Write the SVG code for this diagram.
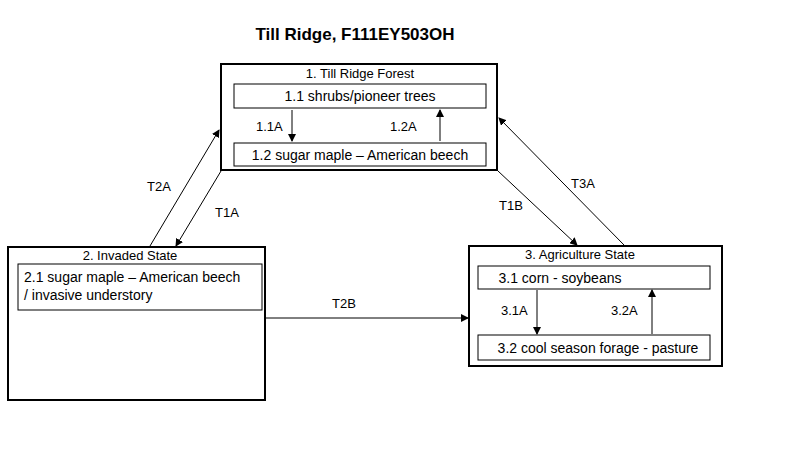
<svg xmlns="http://www.w3.org/2000/svg" width="800" height="450" viewBox="0 0 800 450">
<style>
text{font-family:"Liberation Sans",Arial,sans-serif;font-size:13px;fill:#000}
.b{font-size:14px}
.c{text-anchor:middle}
.o{fill:#fff;stroke:#000;stroke-width:2}
.i{fill:#fff;stroke:#000;stroke-width:1}
.l{stroke:#000;stroke-width:1;fill:none}
</style>
<defs><marker id="a" markerWidth="8" markerHeight="8" refX="7" refY="4" orient="auto" markerUnits="userSpaceOnUse"><path d="M0,0L8,4L0,8z" fill="#000"/></marker></defs>
<rect width="800" height="450" fill="#fff"/>
<text x="355" y="40" class="c" style="font-size:17px;font-weight:bold">Till Ridge, F111EY503OH</text>
<g id="n1"><rect class="o" x="221" y="64" width="276" height="106"/>
<text x="360" y="78" class="c">1. Till Ridge Forest</text>
<rect class="i" x="234" y="84" width="252" height="24"/><text x="360" y="101" class="c b">1.1 shrubs/pioneer trees</text>
<rect class="i" x="234" y="143" width="252" height="23"/><text x="360" y="160" class="c b">1.2 sugar maple – American beech</text>
<text x="256" y="131">1.1A</text><text x="390" y="131">1.2A</text></g>
<g id="n2"><rect class="o" x="8" y="247" width="257" height="153"/>
<text x="130" y="260" class="c">2. Invaded State</text>
<rect class="i" x="18" y="264" width="244" height="46"/>
<text x="24" y="282" class="b">2.1 sugar maple – American beech</text><text x="24" y="300" class="b">/ invasive understory</text></g>
<g id="n3"><rect class="o" x="469" y="246" width="253" height="120"/>
<text x="580" y="259" class="c">3. Agriculture State</text>
<rect class="i" x="478" y="266" width="232" height="23"/><text x="560" y="283" class="c b">3.1 corn - soybeans</text>
<rect class="i" x="478" y="335" width="232" height="25"/><text x="598" y="353" class="c b">3.2 cool season forage - pasture</text>
<text x="501" y="315">3.1A</text><text x="611" y="315">3.2A</text></g>
<g id="connectors">
<line class="l" x1="292" y1="110" x2="292" y2="141" marker-end="url(#a)"/>
<line class="l" x1="440" y1="141" x2="440" y2="110" marker-end="url(#a)"/>
<line class="l" x1="537" y1="290" x2="537" y2="334" marker-end="url(#a)"/>
<line class="l" x1="652" y1="334" x2="652" y2="290" marker-end="url(#a)"/>
<line class="l" x1="150" y1="246" x2="219" y2="130" marker-end="url(#a)"/>
<line class="l" x1="221" y1="171" x2="176" y2="246" marker-end="url(#a)"/>
<line class="l" x1="498" y1="171" x2="577" y2="245" marker-end="url(#a)"/>
<line class="l" x1="625" y1="246" x2="499" y2="118" marker-end="url(#a)"/>
<line class="l" x1="265" y1="318" x2="468" y2="318" marker-end="url(#a)"/>
<text x="147" y="191">T2A</text><text x="215" y="217">T1A</text>
<text x="499" y="210">T1B</text><text x="571" y="188">T3A</text>
<text x="332" y="308">T2B</text>
</g>
</svg>
